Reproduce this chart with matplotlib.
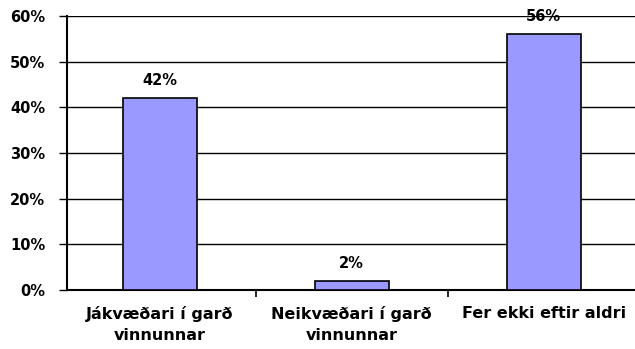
import matplotlib.pyplot as plt
from matplotlib.ticker import FixedLocator

categories = ["Jákvæðari í garð\nvinnunnar", "Neikvæðari í garð\nvinnunnar", "Fer ekki eftir aldri"]
shares = [42, 2, 56]
y_ticks = [0, 10, 20, 30, 40, 50, 60]

W, H = 635, 349
fig = plt.figure(figsize=(W / 100, H / 100), dpi=100)
ax = fig.add_axes([67 / W, (H - 290) / H, (W - 67) / W, 274 / H])

x = range(len(categories))
ax.bar(x, shares, width=0.385, color="#9999ff", edgecolor="black", linewidth=1.2, zorder=3)

for xi, v in zip(x, shares):
    ax.text(xi, v + 3.8, f"{v}%", ha="center", va="center",
            fontsize=10.5, fontweight="bold", zorder=4)

ax.set_xlim(-0.482, 2.476)
ax.set_ylim(0, 60)

ax.set_yticks(y_ticks)
ax.set_yticklabels([f"{t}%" for t in y_ticks], fontsize=10.5, fontweight="bold")
ax.yaxis.grid(True, color="black", linewidth=1, zorder=0)

# category separators on the x axis
ax.xaxis.set_major_locator(FixedLocator([0.5, 1.5]))
ax.set_xticklabels([])
ax.tick_params(axis="x", length=5, width=1.2, direction="out", color="black")
ax.tick_params(axis="y", length=6, width=1, direction="out", pad=9.5)

for xi, name in zip(x, categories):
    ax.text(xi, -3.5, name, ha="center", va="top", fontsize=11.5, fontweight="bold",
            linespacing=1.5)

for side in ["top", "right"]:
    ax.spines[side].set_visible(False)
ax.spines["left"].set_linewidth(1.5)
ax.spines["bottom"].set_linewidth(1.5)

fig.savefig("out.png", dpi=100)
